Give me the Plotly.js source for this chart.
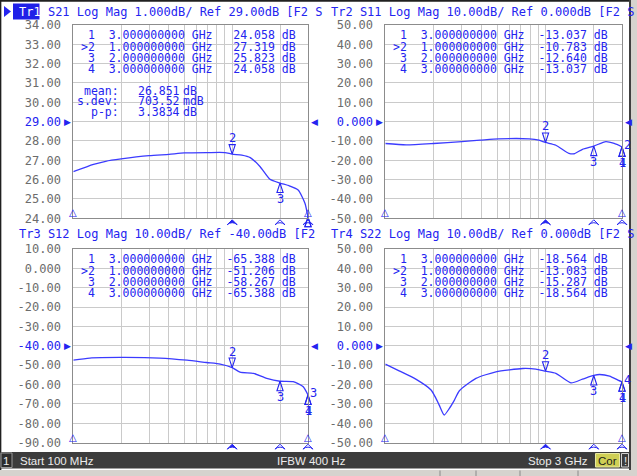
<!DOCTYPE html>
<html>
<head>
<meta charset="utf-8">
<script src="https://cdn.plot.ly/plotly-3.0.1.min.js"></script>
<style>
  html, body { margin: 0; padding: 0; background: #fff; overflow: hidden; }
  #chart { width: 637px; height: 476px; }
</style>
</head>
<body>
<div id="chart"></div>
<script>
// ---- sweep data: 100 MHz .. 3 GHz, log frequency (GHz) ----
const s21Freq = [0.1, 0.134, 0.16, 0.2, 0.3, 0.4, 0.5, 0.7, 0.9, 1.0, 1.15, 1.3, 1.5, 1.73, 2.0, 2.3, 2.6, 2.87, 3.0];
const s21Mag  = [26.41, 26.79, 26.95, 27.07, 27.24, 27.31, 27.38, 27.40, 27.40, 27.319, 27.27, 27.14, 26.67, 26.02, 25.823, 25.67, 25.46, 24.78, 24.058];

const s11Freq = [0.1, 0.135, 0.2, 0.3, 0.39, 0.51, 0.79, 0.91, 1.0, 1.16, 1.4, 1.51, 1.7, 2.0, 2.38, 2.68, 3.0];
const s11Mag  = [-11.3, -12.0, -11.3, -10.3, -9.6, -8.9, -8.9, -9.6, -10.783, -12.2, -16.4, -16.6, -14.3, -12.64, -10.3, -11.3, -13.037];

const s12Freq = [0.1, 0.127, 0.197, 0.35, 0.52, 0.69, 0.84, 1.0, 1.12, 1.36, 1.65, 2.0, 2.42, 2.8, 3.0];
const s12Mag  = [-47.4, -46.3, -46.0, -46.3, -47.4, -48.6, -49.4, -51.206, -53.6, -54.2, -56.8, -58.267, -58.5, -61.1, -65.388];

const s22Freq = [0.1, 0.122, 0.155, 0.193, 0.207, 0.217, 0.233, 0.251, 0.27, 0.29, 0.368, 0.49, 0.72, 0.87, 1.0, 1.16, 1.44, 1.7, 2.0, 2.17, 2.51, 2.83, 3.0];
const s22Mag  = [-9.4, -12.9, -17.2, -22.8, -27.1, -30.6, -35.7, -32.3, -28.0, -23.2, -16.8, -13.4, -11.7, -12.0, -13.083, -14.2, -19.1, -17.2, -15.287, -14.8, -15.6, -17.7, -18.564];

// ---- markers (same stimulus for all traces) ----
const markerIds   = ['1', '>2', '3', '4'];
const markerFreqs = [3.0, 1.0, 2.0, 3.0];
const markerFreqText = ['3.000000000 GHz', '1.000000000 GHz', '2.000000000 GHz', '3.000000000 GHz'];
const s21MarkerText = ['24.058', '27.319', '25.823', '24.058'];
const s11MarkerText = ['-13.037', '-10.783', '-12.640', '-13.037'];
const s12MarkerText = ['-65.388', '-51.206', '-58.267', '-65.388'];
const s22MarkerText = ['-18.564', '-13.083', '-15.287', '-18.564'];

// ---- trace statistics (Tr1) ----
const statLabels = ['mean:', 's.dev:', 'p-p:'];
const statValues = ['26.851', '703.52', '3.3834'];
const statUnits  = ['dB', 'mdB', 'dB'];

// ---- vertical scales ----
const s21Ticks = [34, 33, 32, 31, 30, 29, 28, 27, 26, 25, 24];
const s21TickText = ['34.00', '33.00', '32.00', '31.00', '30.00', '29.00', '28.00', '27.00', '26.00', '25.00', '24.00'];
const s11Ticks = [50, 40, 30, 20, 10, 0, -10, -20, -30, -40, -50];
const s11TickText = ['50.00', '40.00', '30.00', '20.00', '10.00', '0.000', '-10.00', '-20.00', '-30.00', '-40.00', '-50.00'];
const s12Ticks = [10, 0, -10, -20, -30, -40, -50, -60, -70, -80, -90];
const s12TickText = ['10.00', '0.000', '-10.00', '-20.00', '-30.00', '-40.00', '-50.00', '-60.00', '-70.00', '-80.00', '-90.00'];

// frequency grid lines
const gridFreqs = [0.2, 0.3, 0.4, 0.5, 0.6, 0.7, 0.8, 0.9, 1.0, 2.0];

const W = 637, H = 476;
const px = x => x / W;
const py = y => 1 - y / H;
const lg = Math.log10;
const NB = '\u00A0';
const padL = (s, n) => NB.repeat(Math.max(0, n - s.length)) + s;

const BLUE = '#2424f0';
const TRACE = '#3b3bff';
const GRAY = '#6c6c6c';
const MONO = 'DejaVu Sans Mono';

const panels = [
  { ax: '', l: 73.3, r: 308, t: 25, b: 218.3, freq: s21Freq, mag: s21Mag, ticks: s21Ticks, tickText: s21TickText,
    ref: 29, title: '<span style="color:#ffffff">Tr1</span> S21 Log Mag 1.000dB/ Ref 29.00dB [F2 S', tx: 17.5, ty: 12,
    mText: s21MarkerText, sideLabel: null, stopLabels: false },
  { ax: '2', l: 385.3, r: 622, t: 25, b: 218.3, freq: s11Freq, mag: s11Mag, ticks: s11Ticks, tickText: s11TickText,
    ref: 0, title: 'Tr2 S11 Log Mag 10.00dB/ Ref 0.000dB [F2 S', tx: 330, ty: 12,
    mText: s11MarkerText, sideLabel: '2', stopLabels: true },
  { ax: '3', l: 73.3, r: 308, t: 249, b: 442.7, freq: s12Freq, mag: s12Mag, ticks: s12Ticks, tickText: s12TickText,
    ref: -40, title: 'Tr3 S12 Log Mag 10.00dB/ Ref -40.00dB [F2', tx: 17.5, ty: 234,
    mText: s12MarkerText, sideLabel: '3', stopLabels: true },
  { ax: '4', l: 385.3, r: 622, t: 249, b: 442.7, freq: s22Freq, mag: s22Mag, ticks: s11Ticks, tickText: s11TickText,
    ref: 0, title: 'Tr4 S22 Log Mag 10.00dB/ Ref 0.000dB [F2 S', tx: 330, ty: 234,
    mText: s22MarkerText, sideLabel: '4', stopLabels: true }
];

const data = [];
const layout = {
  width: W, height: H,
  margin: { l: 0, r: 0, t: 0, b: 0 },
  paper_bgcolor: '#ffffff',
  plot_bgcolor: '#ffffff',
  showlegend: false,
  font: { family: MONO, size: 11.5, color: BLUE },
  annotations: [],
  shapes: []
};
const ann = layout.annotations;
const shp = layout.shapes;

function note(o) {
  ann.push(Object.assign({ showarrow: false, borderpad: 0 }, o));
}

panels.forEach((p, i) => {
  const xa = 'x' + p.ax, ya = 'y' + p.ax;
  const yMin = p.ticks[p.ticks.length - 1], yMax = p.ticks[0];

  layout['xaxis' + p.ax] = {
    domain: [px(p.l), px(p.r)], anchor: ya, type: 'log',
    range: [-1, lg(3)], tickvals: gridFreqs, showticklabels: false, ticks: '',
    showgrid: true, gridcolor: '#cacaca', gridwidth: 1, zeroline: false,
    showline: true, mirror: true, linecolor: '#8c8c8c', linewidth: 1, fixedrange: true
  };
  layout['yaxis' + p.ax] = {
    domain: [py(p.b), py(p.t)], anchor: xa, range: [yMin, yMax],
    tickvals: p.ticks,
    ticktext: p.ticks.map((v, k) => v === p.ref ? '<span style="color:' + BLUE + '">' + p.tickText[k] + '</span>' : p.tickText[k]),
    tickfont: { family: MONO, size: 12, color: GRAY }, ticks: '', ticklabelstandoff: 9,
    showgrid: true, gridcolor: '#cacaca', gridwidth: 1, zeroline: false,
    showline: true, mirror: true, linecolor: '#8c8c8c', linewidth: 1, fixedrange: true
  };

  // measured trace
  data.push({
    type: 'scatter', mode: 'lines', x: p.freq, y: p.mag, xaxis: xa, yaxis: ya,
    line: { color: TRACE, width: 1.3, shape: 'spline', smoothing: 0.6 }, hoverinfo: 'skip'
  });

  // marker pointers sitting on the trace (tip on the point); the active marker 2 hangs above it
  const valAt = f => p.mag[p.freq.indexOf(f)];
  data.push({
    type: 'scatter', mode: 'markers', xaxis: xa, yaxis: ya, cliponaxis: false, hoverinfo: 'skip',
    x: markerFreqs, y: markerFreqs.map(valAt),
    marker: { symbol: 'arrow-open', size: 10, angle: [0, 180, 0, 0], color: BLUE, line: { color: BLUE, width: 1.1 } }
  });

  // stimulus pointers under the bottom edge (filled = active marker)
  data.push({
    type: 'scatter', mode: 'markers', xaxis: xa, yaxis: ya, cliponaxis: false, hoverinfo: 'skip',
    x: [markerFreqs[1], markerFreqs[2], markerFreqs[3]], y: [yMin, yMin, yMin],
    marker: { symbol: ['arrow-wide', 'arrow-wide-open', 'arrow-wide-open'], size: 7, standoff: 1.5,
              color: BLUE, line: { color: BLUE, width: 1 } }
  });

  // channel title line
  note({ xref: 'paper', yref: 'paper', x: px(p.tx), y: py(p.ty), xanchor: 'left', yanchor: 'middle',
         text: p.title, font: { family: MONO, size: 12, color: BLUE } });

  // reference level pointers
  note({ xref: 'paper', yref: ya, x: px(p.l - 1), y: p.ref, xanchor: 'right', yanchor: 'middle',
         text: '▶', font: { family: 'DejaVu Sans', size: 9, color: BLUE } });
  note({ xref: 'paper', yref: ya, x: px(p.r + 2), y: p.ref, xanchor: 'left', yanchor: 'middle',
         text: '◀', font: { family: 'DejaVu Sans', size: 9, color: BLUE } });

  // marker table, one fixed-pitch line per marker
  const rowY = [10.3, 21.6, 32.9, 44.2];
  markerIds.forEach((id, k) => {
    const line = padL(id, 2).replace('>', '&gt;') + NB + NB +
                 markerFreqText[k].replace(' ', NB) + padL(p.mText[k], 9) + NB + 'dB';
    note({ xref: 'paper', yref: 'paper', x: px(p.l + 6.7), y: py(p.t + rowY[k]), xanchor: 'left', yanchor: 'middle', text: line });
  });

  if (i === 0) {
    const statY = [65.8, 76.4, 87.0];
    statLabels.forEach((s, k) => {
      const y = py(p.t + statY[k]);
      note({ xref: 'paper', yref: 'paper', x: px(p.l + 47), y, xanchor: 'right', yanchor: 'middle', text: s });
      note({ xref: 'paper', yref: 'paper', x: px(p.l + 63.5), y, xanchor: 'left', yanchor: 'middle', text: statValues[k] });
      note({ xref: 'paper', yref: 'paper', x: px(p.l + 109), y, xanchor: 'left', yanchor: 'middle', text: statUnits[k] });
    });
  }

  // marker numbers
  const lab = { family: MONO, size: 12, color: BLUE };
  note({ xref: xa, yref: ya, x: lg(markerFreqs[1]), y: valAt(markerFreqs[1]), xanchor: 'center', yanchor: 'bottom', yshift: 8, text: '2', font: lab });
  note({ xref: xa, yref: ya, x: lg(markerFreqs[2]), y: valAt(markerFreqs[2]), xanchor: 'center', yanchor: 'top', yshift: -8, text: '3', font: lab });
  if (p.stopLabels) {
    note({ xref: xa, yref: ya, x: lg(markerFreqs[0]), y: valAt(markerFreqs[0]), xanchor: 'center', yanchor: 'top', yshift: -8, text: '1', font: lab });
    note({ xref: xa, yref: ya, x: lg(markerFreqs[3]), y: valAt(markerFreqs[3]), xanchor: 'center', yanchor: 'top', yshift: -8, text: '4', font: lab });
  }
  if (p.sideLabel) {
    note({ xref: xa, yref: ya, x: lg(markerFreqs[3]), y: valAt(markerFreqs[3]), xanchor: 'left', yanchor: 'bottom', xshift: 1, yshift: -6, text: p.sideLabel, font: lab });
  }

  // start/stop pointers resting on the bottom edge
  const small = { family: 'DejaVu Sans', size: 10, color: BLUE };
  note({ xref: xa, yref: ya, x: lg(0.1), y: yMin, xanchor: 'center', yanchor: 'bottom', yshift: -1, text: '△', font: small });
  note({ xref: xa, yref: ya, x: lg(3.0), y: yMin, xanchor: 'center', yanchor: 'bottom', yshift: -1, text: '△', font: small });
});

// active trace tag, outer frame and status bar
shp.push({ type: 'path', xref: 'paper', yref: 'paper', path: `M ${px(4)} ${py(6)} L ${px(11)} ${py(11.5)} L ${px(4)} ${py(17)} Z`, fillcolor: BLUE, line: { width: 0 } });
shp.push({ type: 'rect', xref: 'paper', yref: 'paper', x0: px(13), x1: px(39.5), y0: py(3.5), y1: py(19.5), fillcolor: '#2020e8', line: { width: 0 } });
shp.push({ type: 'line', xref: 'paper', yref: 'paper', x0: 0, x1: px(631), y0: py(0.8), y1: py(0.8), line: { color: '#202020', width: 2 } });
shp.push({ type: 'line', xref: 'paper', yref: 'paper', x0: px(0.6), x1: px(0.6), y0: py(0), y1: py(470), line: { color: '#202020', width: 1.5 } });
shp.push({ type: 'rect', xref: 'paper', yref: 'paper', x0: px(631), x1: 1, y0: 0, y1: 1, fillcolor: '#d6d3ce', line: { width: 0 } });
shp.push({ type: 'line', xref: 'paper', yref: 'paper', x0: px(630), x1: px(630), y0: py(0), y1: py(470), line: { color: '#404040', width: 2 } });
shp.push({ type: 'rect', xref: 'paper', yref: 'paper', x0: 0, x1: px(631), y0: py(470), y1: 0, fillcolor: '#d6d3ce', line: { width: 0 } });
shp.push({ type: 'rect', xref: 'paper', yref: 'paper', x0: 0, x1: px(631), y0: py(468.5), y1: py(452), fillcolor: '#3c3c3c', line: { width: 0 } });
shp.push({ type: 'rect', xref: 'paper', yref: 'paper', x0: px(1), x1: px(12), y0: py(467.5), y1: py(453), fillcolor: '#2c2c2c', line: { color: '#9a9a9a', width: 1 } });
shp.push({ type: 'rect', xref: 'paper', yref: 'paper', x0: px(595.5), x1: px(619.5), y0: py(467), y1: py(453.5), fillcolor: '#cfcf55', line: { color: '#e8e8a0', width: 1 } });
shp.push({ type: 'rect', xref: 'paper', yref: 'paper', x0: px(621.5), x1: px(628.5), y0: py(467), y1: py(453.5), fillcolor: '#3c3c3c', line: { color: '#d0d0d0', width: 1 } });
[440, 476, 520, 578].forEach(x => shp.push({ type: 'line', xref: 'paper', yref: 'paper', x0: px(x), x1: px(x), y0: py(470.5), y1: 0, line: { color: '#8a8a8a', width: 1 } }));

const sb = { family: 'Liberation Sans', size: 11.5, color: '#ececec' };
note({ xref: 'paper', yref: 'paper', x: px(6.5), y: py(461), xanchor: 'center', yanchor: 'middle', text: '1', font: sb });
note({ xref: 'paper', yref: 'paper', x: px(19), y: py(461), xanchor: 'left', yanchor: 'middle', text: 'Start 100 MHz', font: sb });
note({ xref: 'paper', yref: 'paper', x: px(311), y: py(461), xanchor: 'center', yanchor: 'middle', text: 'IFBW 400 Hz', font: sb });
note({ xref: 'paper', yref: 'paper', x: px(589), y: py(461), xanchor: 'right', yanchor: 'middle', text: 'Stop 3 GHz', font: sb });
note({ xref: 'paper', yref: 'paper', x: px(607.5), y: py(460.5), xanchor: 'center', yanchor: 'middle', text: 'Cor', font: Object.assign({}, sb, { color: '#1a1a1a' }) });
note({ xref: 'paper', yref: 'paper', x: px(625), y: py(460.5), xanchor: 'center', yanchor: 'middle', text: '!', font: sb });

Plotly.newPlot('chart', data, layout, { staticPlot: true, displayModeBar: false });
</script>
</body>
</html>
